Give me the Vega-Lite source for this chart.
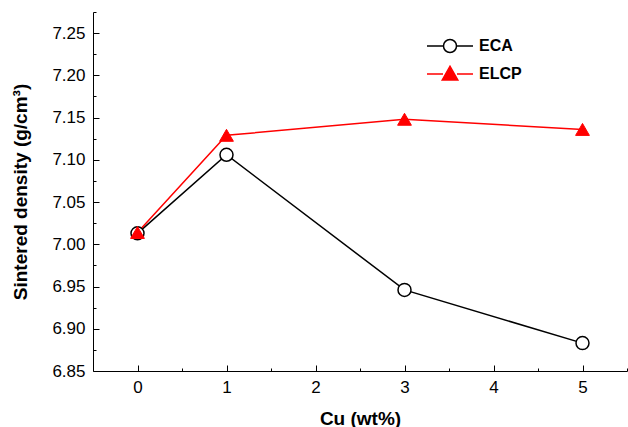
{
  "$schema": "https://vega.github.io/schema/vega-lite/v6.json",
  "width": 534,
  "height": 359,
  "autosize": "none",
  "padding": {"left": 93, "top": 12, "right": 1, "bottom": 56},
  "background": "white",
  "config": {
    "view": {"stroke": null},
    "font": "Liberation Sans",
    "axis": {
      "grid": false,
      "domainColor": "black",
      "domainWidth": 1,
      "tickColor": "black",
      "tickWidth": 1,
      "labelFont": "Liberation Sans",
      "labelFontSize": 17,
      "labelColor": "black",
      "labelOverlap": false,
      "labelFlush": false,
      "titleFont": "Liberation Sans",
      "titleFontSize": 19,
      "titleFontWeight": "bold",
      "titleColor": "black"
    }
  },
  "data": {
    "values": [
      {"cu": 0, "density": 7.013, "series": "ECA"},
      {"cu": 1, "density": 7.106, "series": "ECA"},
      {"cu": 3, "density": 6.946, "series": "ECA"},
      {"cu": 5, "density": 6.883, "series": "ECA"},
      {"cu": 0, "density": 7.014, "series": "ELCP"},
      {"cu": 1, "density": 7.129, "series": "ELCP"},
      {"cu": 3, "density": 7.148, "series": "ELCP"},
      {"cu": 5, "density": 7.136, "series": "ELCP"}
    ]
  },
  "resolve": {"axis": {"x": "independent", "y": "independent"}},
  "layer": [
    {
      "mark": {"type": "line", "strokeWidth": 1.5},
      "encoding": {
        "x": {
          "field": "cu",
          "type": "quantitative",
          "scale": {"domain": [-0.5, 5.5], "nice": false, "zero": false},
          "axis": {
            "title": "Cu (wt%)",
            "values": [0, 1, 2, 3, 4, 5],
            "format": "d",
            "ticks": false,
            "labelPadding": 8,
            "titlePadding": 14
          }
        },
        "y": {
          "field": "density",
          "type": "quantitative",
          "scale": {"domain": [6.85, 7.275], "nice": false, "zero": false},
          "axis": {
            "title": "Sintered density (g/cm³)",
            "values": [6.85, 6.9, 6.95, 7.0, 7.05, 7.1, 7.15, 7.2, 7.25],
            "format": ".2f",
            "ticks": false,
            "labelPadding": 8,
            "titlePadding": 21
          }
        },
        "color": {
          "field": "series",
          "type": "nominal",
          "scale": {"domain": ["ECA", "ELCP"], "range": ["black", "#ff0000"]},
          "legend": {
            "title": null,
            "orient": "none",
            "legendX": 346,
            "legendY": 23,
            "padding": 0,
            "symbolSize": 400,
            "symbolStrokeWidth": 1.5,
            "labelFont": "Liberation Sans",
            "labelFontSize": 16,
            "labelFontWeight": "bold",
            "labelColor": "black",
            "labelOffset": 18,
            "rowPadding": 7,
            "encode": {
              "symbols": {
                "update": {
                  "shape": {"signal": "datum.value === 'ECA' ? 'M-2.3,0H-0.65M0.65,0H2.3M-0.65,0A0.65,0.65,0,1,0,0.65,0A0.65,0.65,0,1,0,-0.65,0Z' : 'M-2.3,0H-0.7M0.7,0H2.3M-0.78,0.6L0,-0.78L0.78,0.6Z'"},
                  "fill": {"signal": "datum.value === 'ECA' ? 'white' : '#ff0000'"},
                  "stroke": {"signal": "datum.value === 'ECA' ? 'black' : '#ff0000'"},
                  "strokeWidth": {"value": 1.5},
                  "opacity": {"value": 1}
                }
              }
            }
          }
        }
      }
    },
    {
      "transform": [{"filter": "datum.series === 'ECA'"}],
      "mark": {"type": "point", "shape": "circle", "size": 169, "filled": false, "fill": "white", "stroke": "black", "strokeWidth": 1.5, "opacity": 1},
      "encoding": {
        "x": {
          "field": "cu",
          "type": "quantitative",
          "axis": {
            "orient": "top",
            "offset": -359,
            "values": [0, 1, 2, 3, 4, 5],
            "labels": false,
            "domain": false,
            "title": null,
            "tickSize": 6
          }
        },
        "y": {
          "field": "density",
          "type": "quantitative",
          "axis": {
            "orient": "right",
            "offset": -534,
            "values": [6.85, 6.9, 6.95, 7.0, 7.05, 7.1, 7.15, 7.2, 7.25],
            "labels": false,
            "domain": false,
            "title": null,
            "tickSize": 6
          }
        }
      }
    },
    {
      "transform": [{"filter": "datum.series === 'ELCP'"}],
      "mark": {"type": "point", "shape": "triangle-up", "size": 190, "filled": true, "fill": "#ff0000", "stroke": "#ff0000", "strokeWidth": 1, "opacity": 1},
      "encoding": {
        "x": {
          "field": "cu",
          "type": "quantitative",
          "axis": {
            "orient": "top",
            "offset": -359,
            "values": [0.5, 1.5, 2.5, 3.5, 4.5, 5.5],
            "labels": false,
            "domain": false,
            "title": null,
            "tickSize": 3
          }
        },
        "y": {
          "field": "density",
          "type": "quantitative",
          "axis": {
            "orient": "right",
            "offset": -534,
            "values": [6.875, 6.925, 6.975, 7.025, 7.075, 7.125, 7.175, 7.225, 7.275],
            "labels": false,
            "domain": false,
            "title": null,
            "tickSize": 3
          }
        }
      }
    }
  ]
}
